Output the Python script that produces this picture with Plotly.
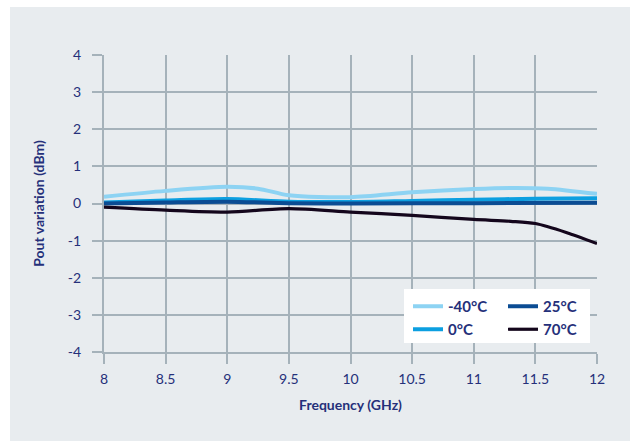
import plotly.graph_objects as go

freq_m40 = [8, 8.5, 9, 9.25, 9.5, 10, 10.5, 11, 11.3, 11.6, 12]
pout_m40 = [0.18, 0.34, 0.45, 0.40, 0.22, 0.17, 0.30, 0.39, 0.42, 0.40, 0.26]

freq_0 = [8, 8.5, 9, 9.5, 10, 10.5, 11, 11.5, 12]
pout_0 = [0.03, 0.08, 0.12, 0.05, 0.04, 0.07, 0.10, 0.13, 0.14]

freq_25 = [8, 8.5, 9, 9.5, 10, 11, 12]
pout_25 = [0.0, 0.03, 0.05, 0.01, 0.0, 0.01, 0.02]

freq_70 = [8, 8.5, 9, 9.5, 10, 10.5, 11, 11.3, 11.5, 11.75, 12]
pout_70 = [-0.10, -0.18, -0.23, -0.14, -0.23, -0.32, -0.43, -0.48, -0.54, -0.78, -1.08]

x_ticks = [8, 8.5, 9, 9.5, 10, 10.5, 11, 11.5, 12]
x_ticklabels = ["8", "8.5", "9", "9.5", "10", "10.5", "11", "11.5", "12"]
y_ticks = [-4, -3, -2, -1, 0, 1, 2, 3, 4]
y_ticklabels = ["-4", "-3", "-2", "-1", "0", "1", "2", "3", "4"]

NAVY = "#25307a"
GRID = "#a5b2ba"
PANEL = "#e8ecef"
FONT = "Lato"

W, H = 630, 441
ML, MR, MT, MB = 104, 33, 55, 89
PW, PH = W - ML - MR, H - MT - MB

def px_x(p):
    return (p - ML) / PW

def px_y(p):
    return (H - MB - p) / PH

fig = go.Figure()
series = [
    ("-40°C", freq_m40, pout_m40, "#8dd3f3", 4, "legend"),
    ("0°C", freq_0, pout_0, "#0c9fe0", 4, "legend2"),
    ("25°C", freq_25, pout_25, "#0b4c93", 4, "legend"),
    ("70°C", freq_70, pout_70, "#14061c", 3.2, "legend2"),
]
for name, xs, ys, col, w, lg in series:
    fig.add_trace(go.Scatter(
        x=xs, y=ys, name=name, mode="lines",
        line=dict(color=col, width=w, shape="spline", smoothing=0.8),
        legend=lg,
    ))

legend_common = dict(
    orientation="h", xanchor="left", yanchor="top",
    bgcolor="rgba(0,0,0,0)", entrywidth=50,
    font=dict(family=FONT, size=15, color=NAVY, weight="bold"),
    itemwidth=30,
)

fig.update_layout(
    width=W, height=H,
    margin=dict(l=ML, r=MR, t=MT, b=MB),
    paper_bgcolor="white",
    plot_bgcolor="rgba(0,0,0,0)",
    font=dict(family=FONT, size=14, color=NAVY),
    showlegend=True,
    legend=dict(x=px_x(408), y=px_y(290), **legend_common),
    legend2=dict(x=px_x(408), y=px_y(313), **legend_common),
    shapes=[
        dict(type="rect", xref="paper", yref="paper",
             x0=px_x(10), x1=px_x(640), y0=px_y(450), y1=px_y(7),
             fillcolor=PANEL, line=dict(width=0), layer="below"),
        dict(type="rect", xref="paper", yref="paper",
             x0=px_x(404), x1=px_x(590), y0=px_y(343), y1=px_y(289),
             fillcolor="white", line=dict(width=0), layer="above"),
    ],
    xaxis=dict(
        range=[8, 12], tickvals=x_ticks, ticktext=x_ticklabels,
        showgrid=True, gridcolor=GRID, gridwidth=2,
        showline=True, linecolor=GRID, linewidth=2,
        ticks="outside", ticklen=10, tickwidth=2, tickcolor=GRID,
        ticklabelstandoff=3,
        zeroline=False,
        tickfont=dict(family=FONT, size=14, color=NAVY),
        title=dict(text="Frequency (GHz)", standoff=14,
                   font=dict(family=FONT, size=14, color=NAVY, weight="bold")),
    ),
    yaxis=dict(
        range=[-4, 4], tickvals=y_ticks, ticktext=y_ticklabels,
        showgrid=True, gridcolor=GRID, gridwidth=2,
        showline=True, linecolor=GRID, linewidth=2,
        ticks="outside", ticklen=10, tickwidth=2, tickcolor=GRID,
        ticklabelstandoff=8,
        zeroline=False,
        tickfont=dict(family=FONT, size=14, color=NAVY),
        title=dict(text="Pout variation (dBm)", standoff=20,
                   font=dict(family=FONT, size=14, color=NAVY, weight="bold")),
    ),
)

fig.write_html("out.html")
